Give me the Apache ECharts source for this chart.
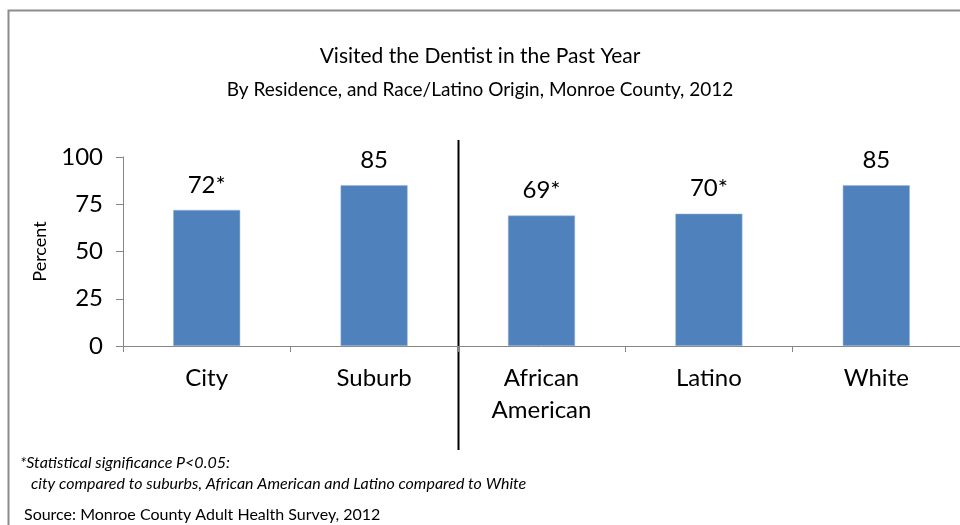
<!DOCTYPE html>
<html>
<head>
<meta charset="utf-8">
<title>Visited the Dentist in the Past Year</title>
<script src="https://cdn.jsdelivr.net/npm/echarts@6/dist/echarts.min.js"></script>
<style>
  html, body { margin: 0; padding: 0; background: #ffffff; }
  #chart { width: 960px; height: 525px; }
</style>
</head>
<body>
<div id="chart"></div>
<script>
// Groups on the category axis: residence, then race / Latino origin
const categories = ['City', 'Suburb', 'African\nAmerican', 'Latino', 'White'];
// Percent of adults who visited a dentist in the past year
const percentVisited = [72, 85, 69, 70, 85];
// Statistically significant differences (P<0.05) get an asterisk
const significant = [true, false, true, true, false];
// Value axis range and step
const yMin = 0;
const yMax = 100;
const yStep = 25;

const titleText = 'Visited the Dentist in the Past Year';
const subtitleText = 'By Residence, and Race/Latino Origin, Monroe County, 2012';
const footnoteLine1 = '*Statistical significance P<0.05:';
const footnoteLine2 = 'city compared to suburbs, African American and Latino compared to White';
const sourceText = 'Source: Monroe County Adult Health Survey, 2012';

const FONT = 'Lato, "Open Sans", sans-serif';
const AXIS_GREY = '#868686';
const BAR_BLUE = '#4F81BD';

const chart = echarts.init(document.getElementById('chart'), null, { renderer: 'canvas' });

const option = {
  animation: false,
  backgroundColor: '#ffffff',
  textStyle: { fontFamily: FONT, color: '#000' },
  title: [
    {
      text: titleText,
      left: 'center',
      top: 41,
      textStyle: { fontFamily: FONT, fontSize: 21, fontWeight: 'normal', color: '#000' }
    },
    {
      text: subtitleText,
      left: 'center',
      top: 75,
      textStyle: { fontFamily: FONT, fontSize: 19, fontWeight: 'normal', color: '#000' }
    }
  ],
  grid: { left: 123, top: 157, width: 847, height: 189, containLabel: false },
  xAxis: {
    type: 'category',
    data: categories,
    axisLine: { show: true, lineStyle: { color: AXIS_GREY, width: 1 } },
    axisTick: { show: true, alignWithLabel: false, length: 6, lineStyle: { color: AXIS_GREY } },
    axisLabel: {
      fontFamily: FONT, fontSize: 24, color: '#000', margin: 16, lineHeight: 32,
      interval: 0, verticalAlign: 'top'
    },
    splitLine: { show: false }
  },
  yAxis: {
    type: 'value',
    min: yMin,
    max: yMax,
    interval: yStep,
    name: 'Percent',
    nameLocation: 'middle',
    nameGap: 74,
    nameRotate: 90,
    nameTextStyle: { fontFamily: FONT, fontSize: 18, color: '#000' },
    axisLine: { show: true, lineStyle: { color: AXIS_GREY, width: 1 } },
    axisTick: { show: true, length: 7, lineStyle: { color: AXIS_GREY } },
    axisLabel: { fontFamily: FONT, fontSize: 24, color: '#000', margin: 20 },
    splitLine: { show: false }
  },
  series: [
    {
      type: 'bar',
      data: percentVisited,
      barWidth: 67,
      itemStyle: { color: BAR_BLUE, borderColor: '#9db7d9', borderWidth: 0.5 },
      label: {
        show: true,
        position: 'top',
        distance: 13,
        fontFamily: FONT,
        fontSize: 24,
        color: '#000',
        formatter: (p) => p.value + (significant[p.dataIndex] ? '*' : '')
      }
    }
  ]
};

chart.setOption(option);

// Divider between the residence groups and the race/origin groups,
// placed halfway between the 2nd and 3rd category slots.
const xLeft = chart.convertToPixel({ xAxisIndex: 0 }, 1);
const xRight = chart.convertToPixel({ xAxisIndex: 0 }, 2);
const dividerX = Math.round((xLeft + xRight) / 2) + 0.5;

chart.setOption({
  graphic: [
    {
      type: 'rect',
      silent: true,
      shape: { x: 8.5, y: 10.5, width: 1000, height: 600 },
      style: { fill: 'none', stroke: '#8c8c8c', lineWidth: 2 }
    },
    {
      type: 'line',
      silent: true,
      shape: { x1: dividerX, y1: 140, x2: dividerX, y2: 450 },
      style: { stroke: '#000', lineWidth: 2 }
    },
    {
      type: 'text',
      silent: true,
      left: 20,
      top: 455,
      style: { text: footnoteLine1, font: 'italic 16px ' + FONT, fill: '#000' }
    },
    {
      type: 'text',
      silent: true,
      left: 31,
      top: 476,
      style: { text: footnoteLine2, font: 'italic 16px ' + FONT, fill: '#000' }
    },
    {
      type: 'text',
      silent: true,
      left: 24,
      top: 507,
      style: { text: sourceText, font: '16px ' + FONT, fill: '#000' }
    }
  ]
});
</script>
</body>
</html>
